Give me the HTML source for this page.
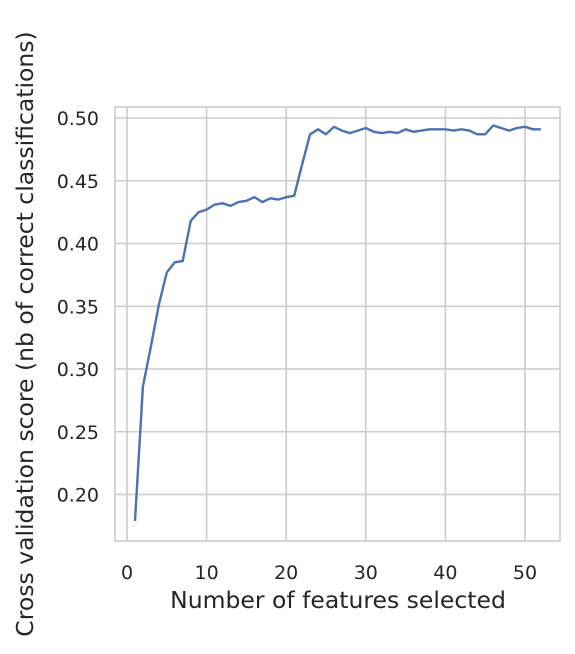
<!DOCTYPE html>
<html><head><meta charset="utf-8"><style>
body{margin:0;background:#fff;}
svg text{font-family:"DejaVu Sans","Liberation Sans",sans-serif;fill:#262626;}
</style></head><body>
<svg width="575" height="649" xmlns="http://www.w3.org/2000/svg">
<g id="grid"></g><g id="ticks"></g>
<rect x="115" y="107" width="445" height="434" fill="none" stroke="#cccccc" stroke-width="1.6"/>
<path id="line" fill="none" stroke="#4c72b0" stroke-width="2.4" stroke-linejoin="round"/>
<text x="338" y="608" font-size="23.5" text-anchor="middle">Number of features selected</text>
<text transform="translate(33,334) rotate(-90)" font-size="23.5" text-anchor="middle">Cross validation score (nb of correct classifications)</text>
</svg>
<script>
const xTicks=[0,10,20,30,40,50];
const yTicks=[0.20,0.25,0.30,0.35,0.40,0.45,0.50];
const scores=[0.179,0.286,0.318,0.351,0.377,0.385,0.386,0.418,0.425,0.427,0.431,0.432,0.430,0.433,0.434,0.437,0.433,0.436,0.435,0.437,0.438,0.463,0.487,0.491,0.487,0.493,0.490,0.488,0.490,0.492,0.489,0.488,0.489,0.488,0.491,0.489,0.490,0.491,0.491,0.491,0.490,0.491,0.490,0.487,0.487,0.494,0.492,0.490,0.492,0.493,0.491,0.491];
const X=v=>127+v*7.96, Y=v=>118+(0.5-v)*1255;
const ns="http://www.w3.org/2000/svg";
const g=document.getElementById('grid'), t=document.getElementById('ticks');
function mk(tag,attrs,parent){const e=document.createElementNS(ns,tag);for(const k in attrs)e.setAttribute(k,attrs[k]);parent.appendChild(e);return e;}
xTicks.forEach(v=>{
 const l=mk('line',{x1:X(v),x2:X(v),y1:107,y2:541,stroke:'#cccccc','stroke-width':1.6},g);
 
 
 const tx=mk('text',{x:X(v),y:579,'font-size':19,'text-anchor':'middle'},t);
 tx.textContent=v;
 
 
});
yTicks.forEach(v=>{
 const l=mk('line',{x1:115,x2:560,y1:Y(v),y2:Y(v),stroke:'#cccccc','stroke-width':1.6},g);
 
 
 const tx=mk('text',{x:99,y:Y(v)+7,'font-size':19,'text-anchor':'end'},t);
 tx.textContent=v.toFixed(2);
 
 
});
document.getElementById('line').setAttribute('d',scores.map((s,i)=>(i?'L':'M')+X(i+1).toFixed(1)+','+Y(s).toFixed(1)).join(''));
</script>
</body></html>
